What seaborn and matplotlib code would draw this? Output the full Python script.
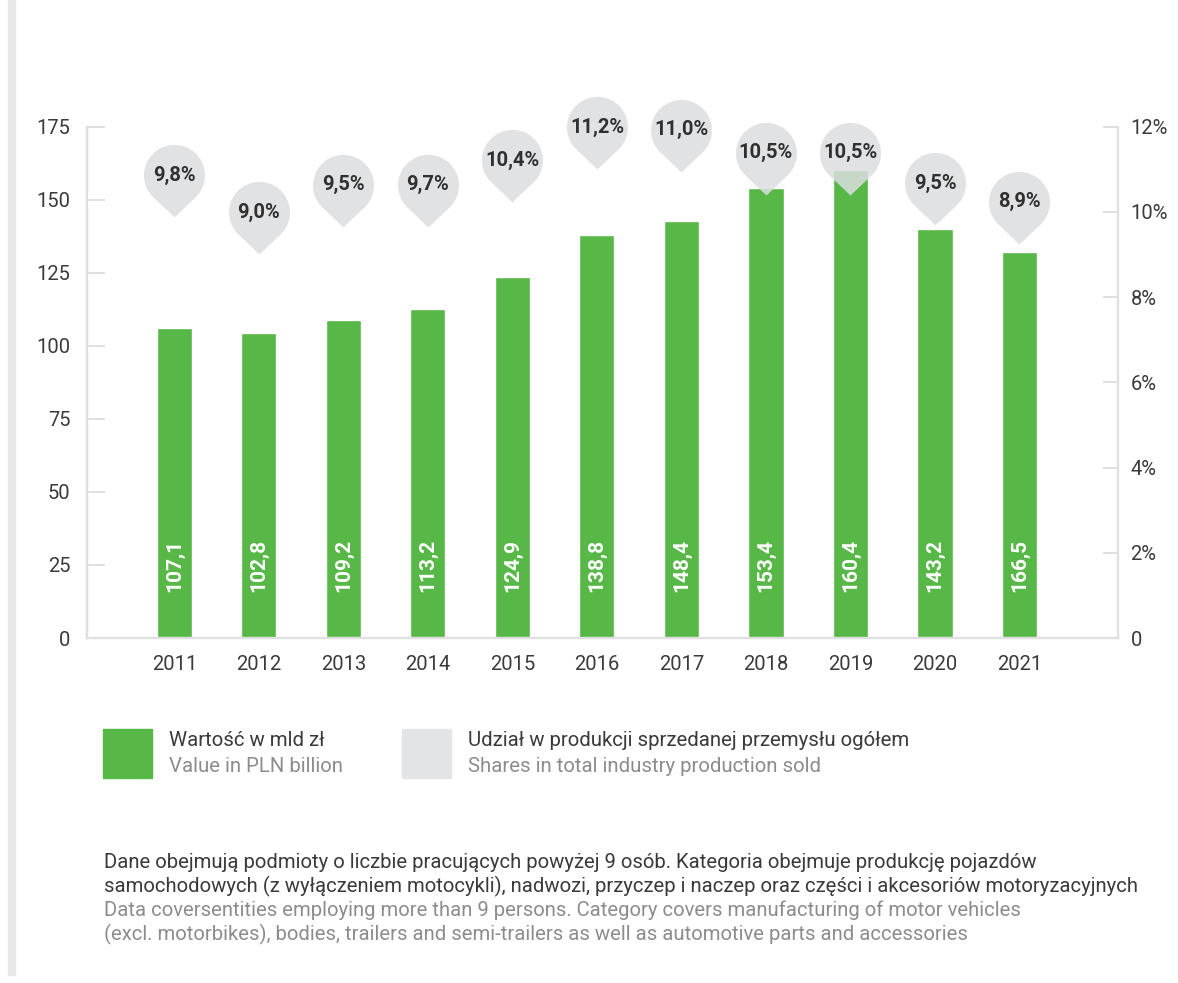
import numpy as np
import pandas as pd
import matplotlib
matplotlib.use("Agg")
import matplotlib.pyplot as plt
from matplotlib.path import Path
from matplotlib.markers import MarkerStyle
from matplotlib.patches import Rectangle
import seaborn as sns

# ---- data ----
years = ["2011", "2012", "2013", "2014", "2015", "2016", "2017", "2018", "2019", "2020", "2021"]
bar_heights = [106.1, 104.4, 108.8, 112.6, 123.5, 137.9, 142.7, 154.0, 160.2, 140.0, 132.1]
value_labels = ["107,1", "102,8", "109,2", "113,2", "124,9", "138,8", "148,4", "153,4", "160,4", "143,2", "166,5"]
# pin tip positions as drawn (right axis, %)
bubble_pos = [9.88, 9.01, 9.65, 9.65, 10.23, 11.0, 10.94, 10.40, 10.40, 9.69, 9.25]
share_labels = ["9,8%", "9,0%", "9,5%", "9,7%", "10,4%", "11,2%", "11,0%", "10,5%", "10,5%", "9,5%", "8,9%"]
left_ticks = [0, 25, 50, 75, 100, 125, 150, 175]
right_ticks = [0, 2, 4, 6, 8, 10, 12]
right_tick_labels = ["0", "2%", "4%", "6%", "8%", "10%", "12%"]

legend_pl = ["Wartość w mld zł", "Udział w produkcji sprzedanej przemysłu ogółem"]
legend_en = ["Value in PLN billion", "Shares in total industry production sold"]
note_lines_pl = [
    "Dane obejmują podmioty o liczbie pracujących powyżej 9 osób. Kategoria obejmuje produkcję pojazdów",
    "samochodowych (z wyłączeniem motocykli), nadwozi, przyczep i naczep oraz części i akcesoriów motoryzacyjnych",
]
note_lines_en = [
    "Data coversentities employing more than 9 persons. Category covers manufacturing of motor vehicles",
    "(excl. motorbikes), bodies, trailers and semi-trailers as well as automotive parts and accessories",
]

GREEN = "#57b847"
BUBBLE = "#e3e4e6"
DARK = "#3a3a3a"
GREY_TXT = "#8c8c8c"
AXIS = "#e0e0e2"

sns.set_theme(style="white")
plt.rcParams["font.family"] = ["Roboto", "DejaVu Sans"]

fig = plt.figure(figsize=(11.78, 9.83), dpi=100)
ax = fig.add_axes([87 / 1178, 1 - 638 / 983, (1118 - 87) / 1178, (638 - 126.7) / 983])

df = pd.DataFrame({"year": years, "height": bar_heights})
sns.barplot(data=df, x="year", y="height", color=GREEN, saturation=1, width=0.415, ax=ax, zorder=2)
ax.set_xlim(-1.035, 11.166)
ax.set_ylim(0, 175)
ax.set_xlabel("")
ax.set_ylabel("")
ax.set_yticks(left_ticks)
ax.tick_params(axis="y", direction="in", length=13, width=1.4, color=AXIS, pad=12,
               labelsize=14.5, labelcolor=DARK, left=True)
ax.tick_params(axis="x", length=0, pad=12, labelsize=14.5, labelcolor=DARK)
for s in ["top", "right"]:
    ax.spines[s].set_visible(False)
for s in ["left", "bottom"]:
    ax.spines[s].set_color(AXIS)
    ax.spines[s].set_linewidth(1.7)

for i, lab in enumerate(value_labels):
    ax.annotate(lab, xy=(i, 0), xytext=(0, 46), textcoords="offset pixels",
                rotation=90, ha="center", va="bottom", color="white",
                fontsize=15, fontweight="bold", zorder=3)

# ---- right axis with pin bubbles ----
ax2 = ax.twinx()
ax2.set_ylim(0, 12)
ax2.set_yticks(right_ticks)
ax2.set_yticklabels(right_tick_labels)
ax2.tick_params(axis="y", direction="in", length=11, width=1.4, color=AXIS, pad=9,
                labelsize=14.5, labelcolor=DARK, right=True)
for s in ["top", "left", "bottom"]:
    ax2.spines[s].set_visible(False)
ax2.spines["right"].set_color(AXIS)
ax2.spines["right"].set_linewidth(1.7)

# pin-shaped marker: tip at origin, circle (r=1) centred 1.38 above
d = 1.38
beta = np.degrees(np.arccos(1 / d))
angs = np.radians(np.linspace(-90 + beta, 270 - beta, 120))
verts = [(np.cos(a), d + np.sin(a)) for a in angs] + [(0, 0), (np.cos(angs[0]), d + np.sin(angs[0]))]
codes = [Path.MOVETO] + [Path.LINETO] * (len(verts) - 2) + [Path.CLOSEPOLY]
pin = MarkerStyle(Path(verts, codes))
ms_pt = 104.5
sns.scatterplot(x=np.arange(len(years)), y=bubble_pos, marker=pin, s=ms_pt ** 2,
                color="#dcdde0", alpha=0.85, linewidth=0, ax=ax2, clip_on=False, zorder=4)
ax2.set_xlim(-1.035, 11.166)
for i, (p, lab) in enumerate(zip(bubble_pos, share_labels)):
    ax2.annotate(lab, xy=(i, p), xytext=(0, 42), textcoords="offset pixels",
                 ha="center", va="center", color="#303030", fontsize=14.5, fontweight="bold",
                 annotation_clip=False, zorder=5)

# ---- legend ----
for x0, col, pl, en in [(103, GREEN, legend_pl[0], legend_en[0]), (402, BUBBLE, legend_pl[1], legend_en[1])]:
    fig.patches.append(Rectangle((x0 / 1178, 1 - 778 / 983), 49 / 1178, 49 / 983,
                                 transform=fig.transFigure, color=col, zorder=1))
    fig.text((x0 + 66) / 1178, 1 - 741 / 983, pl, fontsize=14.7, color=DARK, va="center")
    fig.text((x0 + 66) / 1178, 1 - 766 / 983, en, fontsize=14.7, color=GREY_TXT, va="center")

# ---- footnote ----
for k, line in enumerate(note_lines_pl + note_lines_en):
    fig.text(104 / 1178, 1 - (862 + 24 * k) / 983, line, fontsize=14.6,
             color=DARK if k < 2 else GREY_TXT, va="center")

# left decorative stripe
fig.patches.append(Rectangle((8 / 1178, 1 - 975 / 983), 7 / 1178, 975 / 983,
                             transform=fig.transFigure, color="#e8e8ea", zorder=0))

fig.savefig("out.png", dpi=100)
